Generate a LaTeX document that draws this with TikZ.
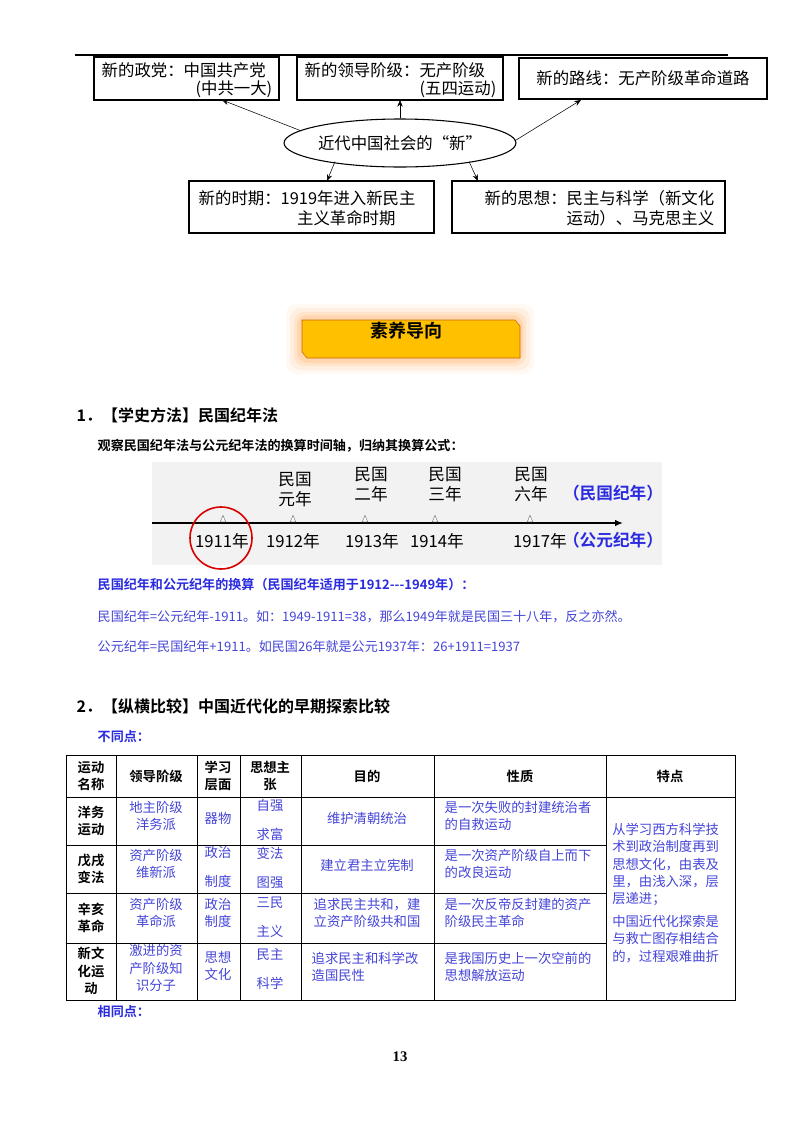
\documentclass[tikz,border=0pt]{standalone}
\usepackage{fontspec}
\setmainfont{Liberation Serif}
\newfontfamily\cjk{Noto Sans CJK SC}
\newfontfamily\cjkb{Noto Sans CJK SC Bold}
\usetikzlibrary{shapes.geometric,arrows.meta}
\definecolor{bl}{HTML}{2B2BE0}
\definecolor{lbl}{HTML}{4545D8}
\definecolor{gold}{HTML}{FFC000}
\begin{document}
\begin{tikzpicture}[x=0.75pt,y=-0.75pt,
  tf/.style={font=\cjk\fontsize{12.3}{15}\selectfont},
  topbox/.style={draw,thick,inner sep=0pt,tf},
  arr/.style={-{Stealth[length=5pt,width=4pt]},thin},
  cell/.style={inner sep=0pt,font=\cjk\fontsize{10}{13}\selectfont,align=center},
  bcell/.style={cell,text=lbl},
  wcell/.style={bcell,font=\cjk\fontsize{10}{22}\selectfont},
  hcell/.style={cell,font=\cjkb\fontsize{10}{13}\selectfont},
  tl/.style={font=\cjk\fontsize{12.5}{15}\selectfont,align=center,inner sep=0pt},
  tick/.style={draw=gray,fill=white,isosceles triangle,shape border rotate=90,minimum width=4pt,minimum height=4pt,inner sep=0pt}]
\useasboundingbox[fill=white] (0,0) rectangle (800,1132);
% top diagram
\draw[thick] (75,55) -- (728,55);
\draw[thick] (94,57) rectangle (279,100);
\node[anchor=west,tf] (b1a) at (97,70) {新的政党：中国共产党};
\node[anchor=east,tf] (b1b) at (277,89) {(中共一大)};
\draw[thick] (297,57) rectangle (503,100);
\node[anchor=west,tf] (b2a) at (300,70) {新的领导阶级：无产阶级};
\node[anchor=east,tf] (b2b) at (501,89) {(五四运动)};
\node[topbox,minimum width=248*0.75pt,minimum height=41*0.75pt,line width=1pt] (b3) at (643,78.5) {新的路线：无产阶级革命道路};
\node[draw,thick,ellipse,minimum width=200*0.75pt,minimum height=48*0.75pt,inner sep=0pt,tf] (el) at (400,143) {近代中国社会的“新”};
\node[topbox,minimum width=245*0.75pt,minimum height=52*0.75pt] (b4) at (311.5,207) {};
\node[tf,align=left,anchor=north west] (b4t) at (194,186) {新的时期：1919年进入新民主\\\hspace{6em}主义革命时期};
\node[topbox,minimum width=273*0.75pt,minimum height=52*0.75pt] (b5) at (588.5,207) {};
\node[tf,align=right,anchor=north east] (b5t) at (719,186) {新的思想：民主与科学（新文化\\运动）、马克思主义};
\coordinate (e1) at (222,100); \coordinate (e2) at (400,100); \coordinate (e3) at (581,100);
\coordinate (e4) at (327,181); \coordinate (e5) at (478,181);
\draw[arr] (el.west)++(18,-12) -- (e1);
\draw[arr] (el.north) -- (e2);
\draw[arr] (el.east)++(-2,-2) -- (e3);
\draw[arr] (el.south)++(-65,-6) -- (e4);
\draw[arr] (el.south)++(69,-6) -- (e5);
% banner
\foreach \g/\o in {14/0.08,10/0.12,6/0.18,3/0.25}{
  \fill[orange!60,opacity=\o,rounded corners=8pt] (300-\g,318-\g) rectangle (520+\g,360+\g);}
\draw[fill=gold,draw=orange!80!black] (302,320) -- (515,320) -- (520,326) -- (520,358) -- (307,358) -- (302,352) -- cycle;
\node[font=\cjkb\fontsize{13.5}{15}\selectfont] (ban) at (406,331) {素养导向};
% section 1
\node[anchor=west,font=\cjkb\fontsize{12}{14}\selectfont] (s1) at (72,415) {1．【学史方法】民国纪年法};
\node[anchor=west,font=\cjkb\fontsize{9.8}{12}\selectfont] (s1b) at (93,446) {观察民国纪年法与公元纪年法的换算时间轴，归纳其换算公式：};
\fill[gray!10] (152,462) rectangle (662,565);
\coordinate (ls) at (152,523); \coordinate (le) at (623,523);
\draw[line width=1.3pt,-{Latex[length=6pt,width=5pt]}] (ls) -- (le);
\foreach \x/\n in {223/t1,293/t2,365/t3,435/t4,530/t5}{\node[tick] (\n) at (\x,520) {};}
\node[tl] (u1) at (295,490) {民国\\元年};
\node[tl] (u2) at (371,485) {民国\\二年};
\node[tl] (u3) at (445,485) {民国\\三年};
\node[tl] (u4) at (531,485) {民国\\六年};
\node[tl,text=bl,font=\cjkb\fontsize{12.5}{15}\selectfont] (u5) at (613,493) {（民国纪年）};
\foreach \x/\y/\n in {222/1911/y1,293/1912/y2,372/1913/y3,437/1914/y4,540/1917/y5}{\node[tl] (\n) at (\x,541) {\y 年};}
\node[tl,text=bl,font=\cjkb\fontsize{12.5}{15}\selectfont] (y6) at (613,540) {（公元纪年）};
\node[draw=red!85!black,line width=1.2pt,circle,minimum size=62*0.75pt] (rc) at (221,538) {};
\node[anchor=west,text=bl,font=\cjkb\fontsize{9.8}{12}\selectfont] (f0) at (93,585) {民国纪年和公元纪年的换算（民国纪年适用于1912---1949年）：};
\node[anchor=west,text=lbl,font=\cjk\fontsize{9.8}{12}\selectfont] (f1) at (93,617) {民国纪年=公元纪年-1911。如：1949-1911=38，那么1949年就是民国三十八年，反之亦然。};
\node[anchor=west,text=lbl,font=\cjk\fontsize{9.8}{12}\selectfont] (f2) at (93,647) {公元纪年=民国纪年+1911。如民国26年就是公元1937年：26+1911=1937};
% section 2
\node[anchor=west,font=\cjkb\fontsize{12}{14}\selectfont] (s2) at (72,706) {2．【纵横比较】中国近代化的早期探索比较};
\node[anchor=west,text=bl,font=\cjkb\fontsize{9.8}{12}\selectfont] (s2a) at (93,737) {不同点：};
% table grid
\draw[thin] (66,755) rectangle (735,1000);
\foreach \x in {116,197,240,301,434,606}{\draw[thin] (\x,755) -- (\x,1000);}
\draw[thin] (66,797) -- (735,797);
\foreach \y in {845,893,943}{\draw[thin] (66,\y) -- (606,\y);}
% header
\node[hcell] (h1) at (91,776) {运动\\名称};
\node[hcell] (h2) at (156,776) {领导阶级};
\node[hcell] (h3) at (218,776) {学习\\层面};
\node[hcell] (h4) at (270,776) {思想主\\张};
\node[hcell] (h5) at (367,776) {目的};
\node[hcell] (h6) at (520,776) {性质};
\node[hcell] (h7) at (670,776) {特点};
% col1
\node[hcell] (r1) at (91,821) {洋务\\运动};
\node[hcell] (r2) at (91,869) {戊戌\\变法};
\node[hcell] (r3) at (91,918) {辛亥\\革命};
\node[hcell] (r4) at (91,971) {新文\\化运\\动};
% col2
\node[bcell] (a1) at (156,816) {地主阶级\\洋务派};
\node[bcell] (a2) at (156,864) {资产阶级\\维新派};
\node[bcell] (a3) at (156,913) {资产阶级\\革命派};
\node[bcell] (a4) at (156,968) {激进的资\\产阶级知\\识分子};
% col3
\node[bcell] (c1) at (218,818) {器物};
\node[wcell] (c2) at (218,867) {政治\\制度};
\node[bcell] (c3) at (218,913) {政治\\制度};
\node[bcell] (c4) at (218,966) {思想\\文化};
% col4
\node[wcell] (d1) at (270,820) {自强\\求富};
\node[wcell] (d2) at (270,868) {变法\\图强};
\node[wcell] (d3) at (270,917) {三民\\主义};
\node[wcell] (d4) at (270,969) {民主\\科学};
% col5
\node[bcell] (g1) at (367,818) {维护清朝统治};
\node[bcell] (g2) at (367,865) {建立君主立宪制};
\node[bcell] (g3) at (367,913) {追求民主共和，建\\立资产阶级共和国};
\node[bcell,align=left] (g4) at (365,967) {追求民主和科学改\\造国民性};
% col6
\node[bcell,align=left] (n1) at (518,816) {是一次失败的封建统治者\\的自救运动};
\node[bcell,align=left] (n2) at (518,864) {是一次资产阶级自上而下\\的改良运动};
\node[bcell,align=left] (n3) at (518,913) {是一次反帝反封建的资产\\阶级民主革命};
\node[bcell,align=left] (n4) at (518,967) {是我国历史上一次空前的\\思想解放运动};
% col7
\node[bcell,align=left,anchor=north west] (k1) at (612,823) {从学习西方科学技\\术到政治制度再到\\思想文化，由表及\\里，由浅入深，层\\层递进；};
\node[bcell,align=left,anchor=north west] (k2) at (612,915) {中国近代化探索是\\与救亡图存相结合\\的，过程艰难曲折};
\node[anchor=west,text=bl,font=\cjkb\fontsize{9.8}{12}\selectfont] (s2b) at (93,1012) {相同点：};
\node[font=\bfseries\fontsize{11}{13}\selectfont] (pg) at (400,1057) {13};
\end{tikzpicture}
\end{document}
